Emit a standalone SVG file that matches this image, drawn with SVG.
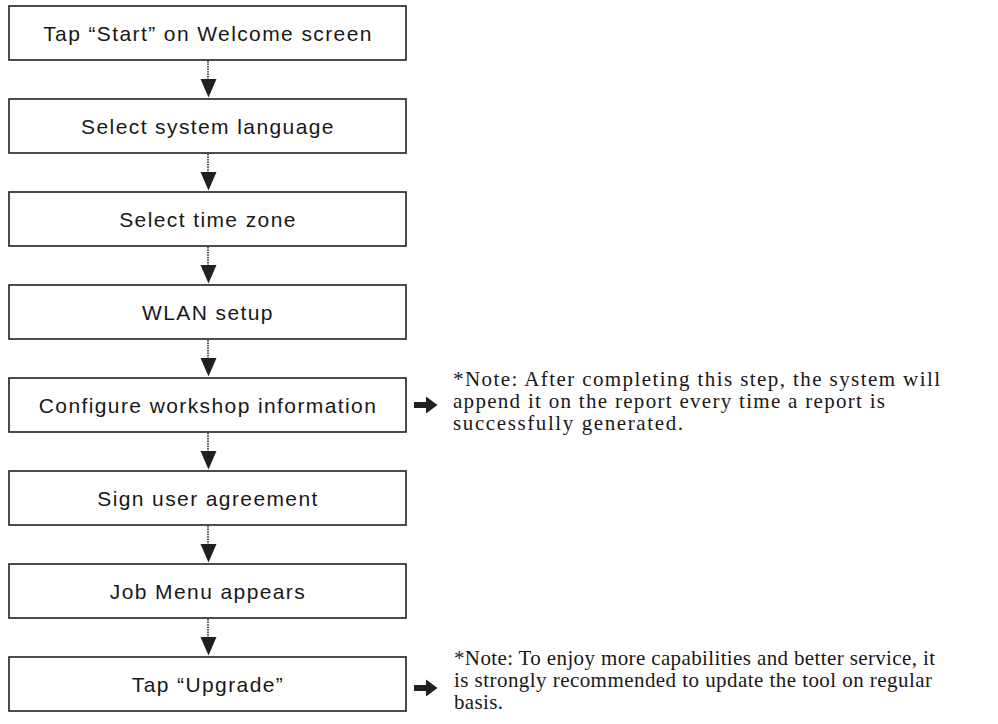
<svg xmlns="http://www.w3.org/2000/svg" width="998" height="724" viewBox="0 0 998 724">
<defs>
<style>
.box{fill:#fff;stroke:#231f20;stroke-width:1.6}
.lbl{font-family:"Liberation Sans",Arial,sans-serif;font-size:21px;letter-spacing:1.4px;fill:#1a1718;text-anchor:middle}
.note{font-family:"Liberation Serif","Times New Roman",serif;font-size:21px;fill:#1a1718}
.dot{stroke:#231f20;stroke-width:1.5;stroke-dasharray:1.5 1;fill:none}
.head{fill:#231f20}
</style>
</defs>
<rect width="998" height="724" fill="#fff"/>
<g id="connectors">
<line class="dot" x1="208" y1="61" x2="208" y2="80"/><path class="head" d="M200.5 79 L216.5 79 L208.5 97.5 Z"/>
<line class="dot" x1="208" y1="154" x2="208" y2="173"/><path class="head" d="M200.5 172 L216.5 172 L208.5 190.5 Z"/>
<line class="dot" x1="208" y1="247" x2="208" y2="266"/><path class="head" d="M200.5 265 L216.5 265 L208.5 283.5 Z"/>
<line class="dot" x1="208" y1="340" x2="208" y2="359"/><path class="head" d="M200.5 358 L216.5 358 L208.5 376.5 Z"/>
<line class="dot" x1="208" y1="433" x2="208" y2="452"/><path class="head" d="M200.5 451 L216.5 451 L208.5 469.5 Z"/>
<line class="dot" x1="208" y1="526" x2="208" y2="545"/><path class="head" d="M200.5 544 L216.5 544 L208.5 562.5 Z"/>
<line class="dot" x1="208" y1="619" x2="208" y2="638"/><path class="head" d="M200.5 637 L216.5 637 L208.5 655.5 Z"/>
<path class="head" d="M414 402 L426 402 L426 396.5 L437.5 405 L426 413.5 L426 408 L414 408 Z"/>
<path class="head" d="M414 685 L426 685 L426 679.5 L437.5 688 L426 696.5 L426 691 L414 691 Z"/>
</g>
<g id="n1"><rect class="box" x="9" y="6" width="397" height="54"/><text class="lbl" x="208" y="41">Tap “Start” on Welcome screen</text></g>
<g id="n2"><rect class="box" x="9" y="99" width="397" height="54"/><text class="lbl" x="208" y="134">Select system language</text></g>
<g id="n3"><rect class="box" x="9" y="192" width="397" height="54"/><text class="lbl" x="208" y="227">Select time zone</text></g>
<g id="n4"><rect class="box" x="9" y="285" width="397" height="54"/><text class="lbl" x="208" y="320">WLAN setup</text></g>
<g id="n5"><rect class="box" x="9" y="378" width="397" height="54"/><text class="lbl" x="208" y="413">Configure workshop information</text></g>
<g id="n6"><rect class="box" x="9" y="471" width="397" height="54"/><text class="lbl" x="208" y="506">Sign user agreement</text></g>
<g id="n7"><rect class="box" x="9" y="564" width="397" height="54"/><text class="lbl" x="208" y="599">Job Menu appears</text></g>
<g id="n8"><rect class="box" x="9" y="657" width="397" height="54"/><text class="lbl" x="208" y="692">Tap “Upgrade”</text></g>
<g id="note1">
<text class="note" x="453" y="386" textLength="487" lengthAdjust="spacing">*Note: After completing this step, the system will</text>
<text class="note" x="453" y="408" textLength="432" lengthAdjust="spacing">append it on the report every time a report is</text>
<text class="note" x="453" y="430" textLength="230" lengthAdjust="spacing">successfully generated.</text>
</g>
<g id="note2">
<text class="note" x="454" y="665" textLength="481" lengthAdjust="spacing">*Note: To enjoy more capabilities and better service, it</text>
<text class="note" x="454" y="687" textLength="478" lengthAdjust="spacing">is strongly recommended to update the tool on regular</text>
<text class="note" x="454" y="709" textLength="49" lengthAdjust="spacing">basis.</text>
</g>
</svg>
